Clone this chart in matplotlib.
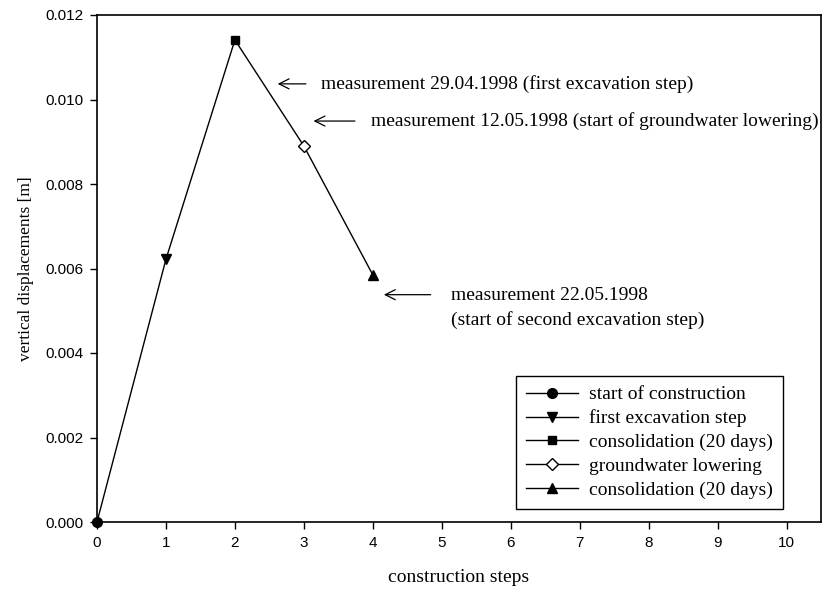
import matplotlib
matplotlib.use('Agg')
import matplotlib.pyplot as plt

# construction steps and measured vertical displacements [m]
steps = [0, 1, 2, 3, 4]
displ = [0.0, 0.00622, 0.01141, 0.0089, 0.00585]

labels = ['start of construction', 'first excavation step', 'consolidation (20 days)',
          'groundwater lowering', 'consolidation (20 days)']
markers = ['o', 'v', 's', 'D', '^']
faces = ['black', 'black', 'black', 'white', 'black']
msizes = [7, 7, 6, 6, 7]

xticks = [0, 1, 2, 3, 4, 5, 6, 7, 8, 9, 10]
yticks = [0.000, 0.002, 0.004, 0.006, 0.008, 0.010, 0.012]

serif = 'Liberation Serif'
sans = 'Liberation Sans'

fig = plt.figure(figsize=(8.27, 5.97), dpi=100)
ax = fig.add_axes([97/827, 75/597, 724/827, 507/597])

ax.plot(steps, displ, '-', color='black', lw=1.0, zorder=2)
for i in range(len(steps)):
    ax.plot([steps[i]], [displ[i]], '-', color='black', lw=1.0, marker=markers[i],
            markersize=msizes[i], markerfacecolor=faces[i], markeredgecolor='black',
            markeredgewidth=1.0, label=labels[i], clip_on=False, zorder=3)

ax.set_xlim(0, 10.5)
ax.set_ylim(0, 0.012)
ax.set_xticks(xticks)
ax.set_yticks(yticks)
ax.set_yticklabels(['%.3f' % v for v in yticks])
for t in ax.get_xticklabels() + ax.get_yticklabels():
    t.set_fontfamily(sans)
    t.set_fontsize(11)
ax.tick_params(direction='out', length=5, width=1.0, pad=5)
for s in ax.spines.values():
    s.set_linewidth(1.2)

ax.set_xlabel('construction steps', fontfamily=serif, fontsize=14, labelpad=14)
ax.set_ylabel('vertical displacements [m]', fontfamily=serif, fontsize=12.5, labelpad=8)

# annotations with arrows
arrow = dict(arrowstyle='->', color='black', lw=0.9, mutation_scale=18)
ax.annotate('', xy=(2.58, 0.01037), xytext=(3.07, 0.01037), arrowprops=arrow)
ax.text(3.25, 0.01037, 'measurement 29.04.1998 (first excavation step)',
        fontfamily=serif, fontsize=14, va='center', ha='left', clip_on=False)
ax.annotate('', xy=(3.10, 0.00949), xytext=(3.78, 0.00949), arrowprops=arrow)
ax.text(3.97, 0.00949, 'measurement 12.05.1998 (start of groundwater lowering)',
        fontfamily=serif, fontsize=14, va='center', ha='left', clip_on=False)
ax.annotate('', xy=(4.12, 0.00538), xytext=(4.88, 0.00538), arrowprops=arrow)
ax.text(5.13, 0.00535, 'measurement 22.05.1998',
        fontfamily=serif, fontsize=14, va='center', ha='left', clip_on=False)
ax.text(5.13, 0.00478, '(start of second excavation step)',
        fontfamily=serif, fontsize=14, va='center', ha='left', clip_on=False)

leg = ax.legend(loc='lower right', bbox_to_anchor=(0.947, 0.026), frameon=True,
                fancybox=False, edgecolor='black', framealpha=1.0,
                prop={'family': serif, 'size': 14}, handlelength=2.7,
                labelspacing=0.32, borderpad=0.5, handletextpad=0.55,
                borderaxespad=0)
leg.get_frame().set_linewidth(1.0)

fig.savefig('out.png', dpi=100)
